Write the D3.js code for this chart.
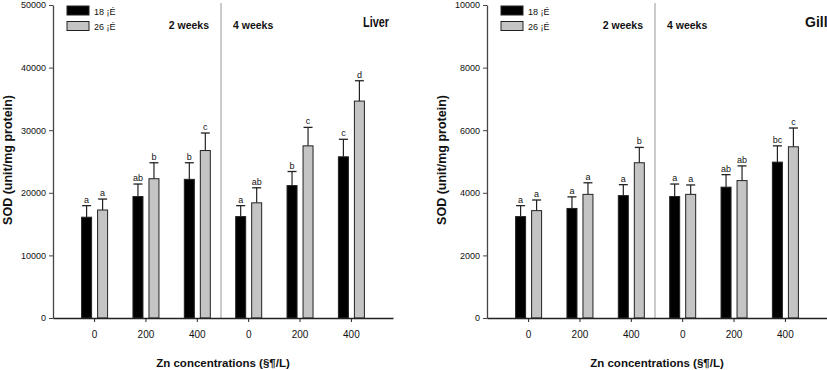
<!DOCTYPE html>
<html>
<head>
<meta charset="utf-8">
<script src="https://cdn.jsdelivr.net/npm/d3@7"></script>
<style>
	body { margin: 0; background: #fff; }
	svg { display: block; font-family: "Liberation Sans", Arial, sans-serif; }
	.tick-label { font-size: 9px; fill: #111; }
	.axis-title { font-size: 10.5px; font-weight: bold; fill: #111; }
	.sig { font-size: 9px; fill: #111; }
</style>
</head>
<body>
<div id="chart"></div>
<script>
const groups = ["0", "200", "400", "0", "200", "400"];
const seriesNames = ["18 ¡É", "26 ¡É"];

const liver18 = [16100, 19400, 22150, 16200, 21150, 25750];
const liver26 = [17250, 22250, 26750, 18400, 27500, 34650];
const liver18Err = [1850, 2000, 2650, 1750, 2250, 2800];
const liver26Err = [1750, 2550, 2800, 2400, 2950, 3250];
const liver18Sig = ["a", "ab", "b", "a", "b", "c"];
const liver26Sig = ["a", "b", "c", "ab", "c", "d"];
const liverTicks = [0, 10000, 20000, 30000, 40000, 50000];

const gill18 = [3240, 3500, 3910, 3880, 4180, 4980];
const gill26 = [3430, 3950, 4960, 3950, 4390, 5470];
const gill18Err = [350, 370, 350, 400, 400, 520];
const gill26Err = [340, 370, 490, 300, 470, 600];
const gill18Sig = ["a", "a", "a", "a", "ab", "bc"];
const gill26Sig = ["a", "a", "b", "a", "ab", "c"];
const gillTicks = [0, 2000, 4000, 6000, 8000, 10000];

const size = { w: 827, h: 370 };
const svg = d3
	.select("#chart")
	.append("svg")
	.attr("width", size.w)
	.attr("height", size.h);

drawPanel({
	x0: 53,
	title: "Liver",
	titleX: 363,
	titleLen: 26,
	max: 50000,
	ticks: liverTicks,
	v18: liver18,
	v26: liver26,
	e18: liver18Err,
	e26: liver26Err,
	s18: liver18Sig,
	s26: liver26Sig,
});
drawPanel({
	x0: 487,
	title: "Gill",
	titleX: 805,
	titleLen: null,
	max: 10000,
	ticks: gillTicks,
	v18: gill18,
	v26: gill26,
	e18: gill18Err,
	e26: gill26Err,
	s18: gill18Sig,
	s26: gill26Sig,
});

function drawPanel(p) {
	const g = svg.append("g");
	const plotW = 340;
	const y = d3.scaleLinear().domain([0, p.max]).range([318, 5]);
	const x = d3
		.scaleBand()
		.domain(d3.range(groups.length))
		.range([p.x0, p.x0 + plotW])
		.paddingInner(0)
		.paddingOuter(0.31);
	const cx = (i) => x(i) + x.bandwidth() / 2;
	const barW = 10;
	const offs = [-8, 8];
	const midX = p.x0 + plotW / 2 - 2;

	// divider between 2 and 4 weeks
	g.append("line")
		.attr("x1", midX)
		.attr("x2", midX)
		.attr("y1", 3)
		.attr("y2", y(0))
		.attr("stroke", "#999")
		.attr("stroke-width", 1);

	const series = [
		{ vals: p.v18, errs: p.e18, sig: p.s18, fill: "#000" },
		{ vals: p.v26, errs: p.e26, sig: p.s26, fill: "#c4c4c4" },
	];

	series.forEach((s, k) => {
		const sg = g.append("g");
		const data = s.vals.map((v, i) => ({ i, v, e: s.errs[i], sig: s.sig[i] }));
		// error bars (upper only)
		sg.selectAll("line.err")
			.data(data)
			.join("line")
			.attr("x1", (d) => cx(d.i) + offs[k])
			.attr("x2", (d) => cx(d.i) + offs[k])
			.attr("y1", (d) => y(d.v))
			.attr("y2", (d) => y(d.v + d.e))
			.attr("stroke", "#222")
			.attr("stroke-width", 1.2);
		sg.selectAll("line.cap")
			.data(data)
			.join("line")
			.attr("x1", (d) => cx(d.i) + offs[k] - 4.5)
			.attr("x2", (d) => cx(d.i) + offs[k] + 4.5)
			.attr("y1", (d) => y(d.v + d.e))
			.attr("y2", (d) => y(d.v + d.e))
			.attr("stroke", "#222")
			.attr("stroke-width", 1.3);
		sg.selectAll("rect")
			.data(data)
			.join("rect")
			.attr("x", (d) => cx(d.i) + offs[k] - barW / 2)
			.attr("y", (d) => y(d.v))
			.attr("width", barW)
			.attr("height", (d) => y(0) - y(d.v))
			.attr("fill", s.fill)
			.attr("stroke", "#222")
			.attr("stroke-width", 1);
		sg.selectAll("text")
			.data(data)
			.join("text")
			.classed("sig", true)
			.attr("x", (d) => cx(d.i) + offs[k])
			.attr("y", (d) => y(d.v + d.e) - 3)
			.attr("text-anchor", "middle")
			.text((d) => d.sig);
	});

	// y axis
	const yAxis = g
		.append("g")
		.attr("transform", `translate(${p.x0},0)`)
		.call(d3.axisLeft(y).tickValues(p.ticks).tickSize(4).tickSizeOuter(0).tickFormat(d3.format("d")));
	yAxis.select(".domain").attr("stroke", "#444").attr("stroke-width", 1.3);
	yAxis.selectAll(".tick line").attr("stroke", "#444");
	yAxis.selectAll(".tick text").attr("class", "tick-label").attr("x", -7);

	// x axis
	const xAxis = g
		.append("g")
		.attr("transform", `translate(0,${y(0)})`)
		.call(
			d3
				.axisBottom(x)
				.tickSize(4)
				.tickSizeOuter(0)
				.tickFormat((i) => groups[i])
		);
	xAxis.select(".domain").attr("stroke", "#222").attr("stroke-width", 1.3);
	xAxis.selectAll(".tick line").attr("stroke", "#222");
	xAxis.selectAll(".tick text")
		.attr("class", "tick-label")
		.style("font-size", "10px")
		.attr("y", 13);

	// axis titles
	g.append("text")
		.classed("axis-title", true)
		.style("font-size", "12.5px")
		.attr("transform", `translate(${p.x0 - 41},160) rotate(-90)`)
		.attr("text-anchor", "middle")
		.text("SOD (unit/mg protein)");
	g.append("text")
		.classed("axis-title", true)
		.style("font-size", "11.5px")
		.attr("x", p.x0 + plotW / 2)
		.attr("y", 367)
		.attr("text-anchor", "middle")
		.text("Zn concentrations (§¶/L)");

	// week labels and title
	g.append("text")
		.classed("axis-title", true)
		.attr("x", midX - 12)
		.attr("y", 29)
		.attr("text-anchor", "end")
		.text("2 weeks");
	g.append("text")
		.classed("axis-title", true)
		.attr("x", midX + 12)
		.attr("y", 29)
		.text("4 weeks");
	const title = g
		.append("text")
		.attr("x", p.titleX)
		.attr("y", 27)
		.attr("font-size", 14)
		.attr("font-weight", "bold")
		.attr("fill", "#111")
		.text(p.title);
	if (p.titleLen) {
		title.attr("textLength", p.titleLen).attr("lengthAdjust", "spacingAndGlyphs");
	}

	// legend
	const leg = g.append("g").attr("transform", `translate(${p.x0 + 14},6)`);
	seriesNames.forEach((name, k) => {
		leg.append("rect")
			.attr("x", 0)
			.attr("y", k * 15.5)
			.attr("width", 22)
			.attr("height", 9)
			.attr("fill", series[k].fill)
			.attr("stroke", "#222")
			.attr("stroke-width", 1);
		leg.append("text")
			.attr("class", "tick-label")
			.attr("x", 27)
			.attr("y", k * 15.5 + 8.5)
			.text(name);
	});
}
</script>
</body>
</html>
